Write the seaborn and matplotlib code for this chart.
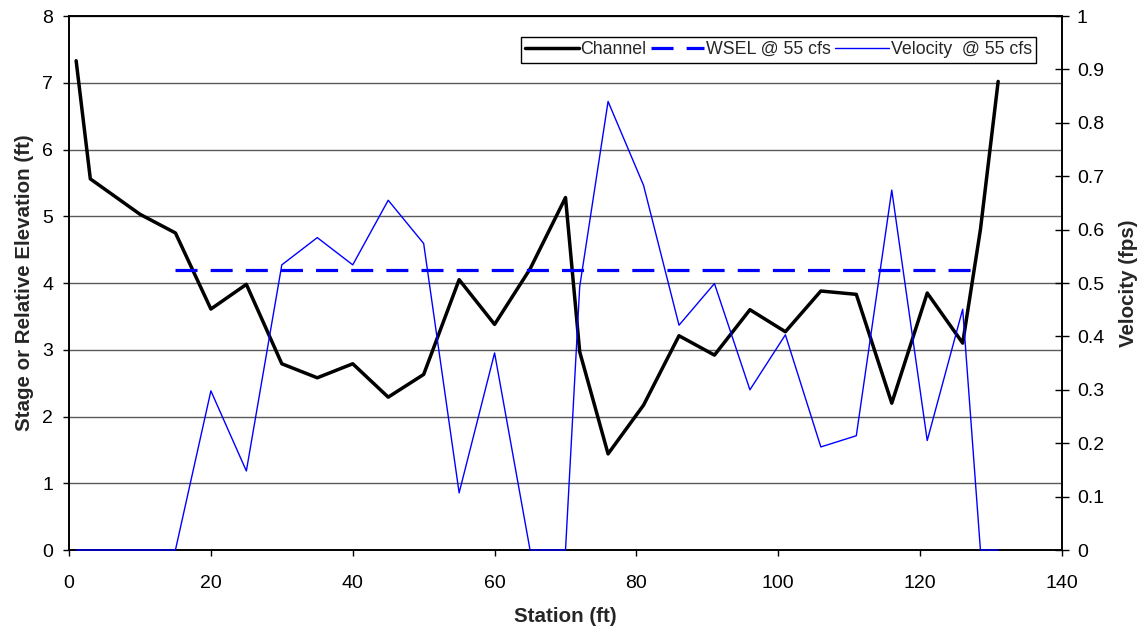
import matplotlib
matplotlib.use("Agg")
import matplotlib.pyplot as plt
import numpy as np
import pandas as pd
import seaborn as sns

# Channel cross-section survey
station = [1, 3, 10, 15, 20, 25, 30, 35, 40, 45, 50, 55, 60, 65, 70, 72, 76, 81,
           86, 91, 96, 101, 106, 111, 116, 121, 126, 128.5, 131]
channel_elev = [7.33, 5.56, 5.03, 4.75, 3.61, 3.98, 2.79, 2.58, 2.79, 2.29, 2.63,
                4.05, 3.38, 4.21, 5.28, 2.97, 1.44, 2.17, 3.21, 2.92, 3.60, 3.27,
                3.88, 3.83, 2.20, 3.85, 3.10, 4.80, 7.02]
velocity = [0, 0, 0, 0, 0.298, 0.148, 0.534, 0.585, 0.534, 0.655, 0.574, 0.107,
            0.369, 0, 0, 0.493, 0.840, 0.683, 0.421, 0.499, 0.300, 0.403, 0.193,
            0.214, 0.674, 0.205, 0.451, 0, 0]

# Water surface elevation across the wetted width
wsel_station = [15, 128.5]
wsel_elev = [4.19, 4.19]

x_ticks = [0, 20, 40, 60, 80, 100, 120, 140]
left_ticks = [0, 1, 2, 3, 4, 5, 6, 7, 8]
right_ticks = [0, 0.1, 0.2, 0.3, 0.4, 0.5, 0.6, 0.7, 0.8, 0.9, 1]

df = pd.DataFrame({"station": station, "channel": channel_elev, "velocity": velocity})
wsel = pd.DataFrame({"station": wsel_station, "wsel": wsel_elev})

sns.set_style("white")
plt.rcParams["font.family"] = ["Liberation Sans", "DejaVu Sans"]

fig = plt.figure(figsize=(11.45, 6.28), dpi=100)
ax = fig.add_axes([0.0603, 0.1242, 0.8672, 0.8503])
ax2 = ax.twinx()

sns.lineplot(data=df, x="station", y="channel", ax=ax, color="black", lw=2.5,
             label="Channel", legend=False, zorder=3)
sns.lineplot(data=wsel, x="station", y="wsel", ax=ax, color="#0000ff", lw=2.3,
             label="WSEL @ 55 cfs", legend=False, zorder=3)
ax.lines[-1].set_dashes([6.9, 4.1])
sns.lineplot(data=df, x="station", y="velocity", ax=ax2, color="#0000ff", lw=1.0,
             label="Velocity  @ 55 cfs", legend=False, zorder=4)
ax2.lines[-1].set_clip_on(False)

ax.set_xlim(0, 140)
ax.set_ylim(0, 8)
ax2.set_ylim(0, 1)
ax.set_xticks(x_ticks)
ax.set_yticks(left_ticks)
ax2.set_yticks(right_ticks)
ax2.set_yticklabels([f"{t:g}" for t in right_ticks])

ax.grid(axis="y", color="#5a5a5a", lw=1.0)
ax.grid(axis="x", visible=False)
ax2.grid(False)

for a in (ax, ax2):
    for s in a.spines.values():
        s.set_visible(True)
        s.set_color("black")
        s.set_linewidth(1.2)
ax.tick_params(axis="y", direction="out", length=4.5, width=1, labelsize=14,
               colors="black", pad=7, left=True)
ax.tick_params(axis="x", direction="out", length=4, width=1, labelsize=14,
               colors="black", pad=14, bottom=True)
ax2.tick_params(axis="y", direction="inout", length=9.4, width=1, labelsize=14,
                colors="black", pad=6, right=True)

ax.set_xlabel("Station (ft)", fontsize=14.8, fontweight="bold", labelpad=11)
ax.set_ylabel("Stage or Relative Elevation (ft)", fontsize=14.8, fontweight="bold",
              labelpad=6)
ax2.set_ylabel("Velocity (fps)", fontsize=14.8, fontweight="bold", labelpad=11)

handles = ax.get_lines()[:2] + ax2.get_lines()[:1]
labels = ["Channel", "WSEL @ 55 cfs", "Velocity  @ 55 cfs"]
leg = ax2.legend(handles, labels, loc="upper right", bbox_to_anchor=(0.974, 0.961),
                 ncol=3, fontsize=12.8, frameon=True, fancybox=False, framealpha=1,
                 edgecolor="black", handlelength=3.0, handletextpad=0.1,
                 columnspacing=0.25, borderpad=0.25, borderaxespad=0)
leg.get_frame().set_linewidth(1.0)

fig.savefig("out.png", dpi=100)
